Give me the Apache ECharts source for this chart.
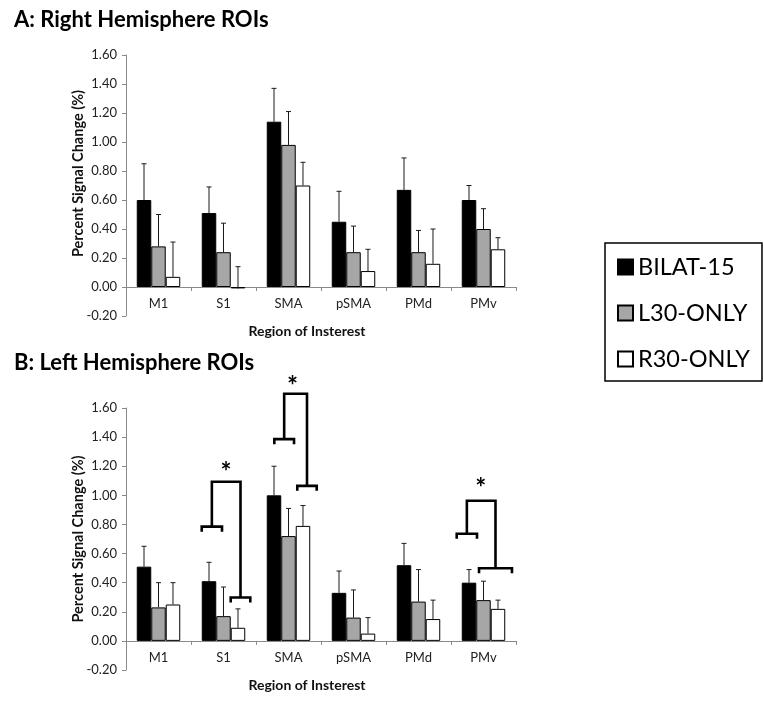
<!DOCTYPE html>
<html>
<head>
<meta charset="utf-8">
<script src="https://cdn.jsdelivr.net/npm/echarts@6/dist/echarts.min.js"></script>
<style>html,body{margin:0;padding:0;background:#fff}#c{width:764px;height:702px}</style>
</head>
<body>
<div id="c"></div>
<script>
const categories = ['M1', 'S1', 'SMA', 'pSMA', 'PMd', 'PMv'];
const seriesNames = ['BILAT-15', 'L30-ONLY', 'R30-ONLY'];
const yTicks = [-0.2, 1.6, 0.2]; // min, max, interval
const xAxisName = 'Region of Insterest';
const yAxisName = 'Percent Signal Change (%)';

// Panel A: Right hemisphere
const rightBilat = [0.60, 0.51, 1.14, 0.45, 0.67, 0.60];
const rightBilatErr = [0.85, 0.69, 1.37, 0.66, 0.89, 0.70];
const rightL30 = [0.28, 0.24, 0.98, 0.24, 0.24, 0.40];
const rightL30Err = [0.50, 0.44, 1.21, 0.42, 0.39, 0.54];
const rightR30 = [0.07, -0.01, 0.70, 0.11, 0.16, 0.26];
const rightR30Err = [0.31, 0.14, 0.86, 0.26, 0.40, 0.34];

// Panel B: Left hemisphere
const leftBilat = [0.51, 0.41, 1.00, 0.33, 0.52, 0.40];
const leftBilatErr = [0.65, 0.54, 1.20, 0.48, 0.67, 0.49];
const leftL30 = [0.23, 0.17, 0.72, 0.16, 0.27, 0.28];
const leftL30Err = [0.40, 0.37, 0.91, 0.35, 0.49, 0.41];
const leftR30 = [0.25, 0.09, 0.79, 0.05, 0.15, 0.22];
const leftR30Err = [0.40, 0.22, 0.93, 0.16, 0.28, 0.28];

// Significance brackets on panel B (category index, heights in % signal change)
const brackets = [
  {cat: 1, leftH: 0.785, topH: 1.093, rightH: 0.298, starH: 1.20},
  {cat: 2, leftH: 1.386, topH: 1.698, rightH: 1.065, starH: 1.79},
  {cat: 5, leftH: 0.736, topH: 0.963, rightH: 0.499, starH: 1.085}
];
// horizontal layout of brackets, as fractions of the category band
const bracketLayout = {
  1: {l: [-0.335, -0.023], r: [0.111, 0.412], star: 0.038},
  2: {l: [-0.218, 0.085], r: [0.135, 0.434], star: 0.062},
  5: {l: [-0.412, -0.100], r: [-0.069, 0.438], star: -0.043}
};

const FONT = 'Lato';
const colors = ['#000000', '#a6a6a6', '#ffffff'];
const BARW = 0.223;
const offsets = [-BARW, 0, BARW];

const chart = echarts.init(document.getElementById('c'), null, {renderer: 'canvas'});

function barSeries(name, data, gi, idx) {
  return {
    type: 'bar', name: name, xAxisIndex: gi, yAxisIndex: gi,
    data: data, barWidth: (BARW * 100) + '%', barGap: '0%',
    itemStyle: {color: colors[idx], borderColor: '#000', borderWidth: 1},
    silent: true, z: 2
  };
}
function errSeries(vals, errs, gi, idx) {
  return {
    type: 'custom', xAxisIndex: gi, yAxisIndex: gi, silent: true, z: 3,
    data: vals.map((v, i) => [i, v, errs[i]]),
    encode: {x: 0, y: [1, 2]},
    renderItem: function (params, api) {
      const c = api.value(0), v = api.value(1), e = api.value(2);
      const band = api.size([1, 0])[0];
      const p0 = api.coord([c, v]);
      const p1 = api.coord([c, e]);
      const x = p0[0] + offsets[idx] * band;
      const st = {stroke: '#1a1a1a', lineWidth: 1};
      return {type: 'group', children: [
        {type: 'line', shape: {x1: x, y1: p0[1], x2: x, y2: p1[1]}, style: st},
        {type: 'line', shape: {x1: x - 2.5, y1: p1[1], x2: x + 2.5, y2: p1[1]}, style: st}
      ]};
    }
  };
}
function bracketSeries() {
  return {
    type: 'custom', xAxisIndex: 1, yAxisIndex: 1, silent: true, z: 4, clip: false,
    data: brackets.map(b => [b.cat, b.leftH, b.topH, b.rightH, b.starH]),
    encode: {x: 0, y: [1, 2, 3]},
    renderItem: function (params, api) {
      const c = api.value(0);
      const lay = bracketLayout[c];
      const band = api.size([1, 0])[0];
      const cx = api.coord([c, 0])[0];
      const yL = api.coord([c, api.value(1)])[1];
      const yT = api.coord([c, api.value(2)])[1];
      const yR = api.coord([c, api.value(3)])[1];
      const yS = api.coord([c, api.value(4)])[1];
      const l0 = cx + lay.l[0] * band, l1 = cx + lay.l[1] * band;
      const r0 = cx + lay.r[0] * band, r1 = cx + lay.r[1] * band;
      const lc = (l0 + l1) / 2, rc = (r0 + r1) / 2;
      const tick = 5;
      const st = {stroke: '#000', lineWidth: 2.6, fill: null, lineJoin: 'miter'};
      return {type: 'group', children: [
        {type: 'polyline', shape: {points: [[l0, yL + tick], [l0, yL], [l1, yL], [l1, yL + tick]]}, style: st},
        {type: 'polyline', shape: {points: [[r0, yR + tick], [r0, yR], [r1, yR], [r1, yR + tick]]}, style: st},
        {type: 'polyline', shape: {points: [[lc, yL], [lc, yT], [rc, yT], [rc, yR]]}, style: st},
        {type: 'text', x: cx + lay.star * band, y: yS + 6,
          style: {text: '*', fontSize: 26, fontWeight: 'bold', fontFamily: FONT, fill: '#000', align: 'center', verticalAlign: 'middle'}}
      ]};
    }
  };
}

const axisColor = '#8a8a8a';
function xAxis(gi) {
  return {
    type: 'category', gridIndex: gi, data: categories,
    axisLine: {onZero: true, lineStyle: {color: axisColor, width: 1}},
    axisTick: {show: true, length: 4, lineStyle: {color: axisColor}},
    axisLabel: {fontFamily: FONT, fontSize: 13, color: '#222', margin: -19},
    name: xAxisName, nameLocation: 'middle', nameGap: 8,
    nameMoveOverlap: false,
    nameTextStyle: {fontFamily: FONT, fontSize: 14, fontWeight: 'bold', color: '#111', padding: [0, 28, 0, 0]}
  };
}
function yAxis(gi) {
  return {
    type: 'value', gridIndex: gi, min: yTicks[0], max: yTicks[1], interval: yTicks[2],
    axisLine: {show: true, lineStyle: {color: axisColor, width: 1}},
    axisTick: {show: true, length: 4, lineStyle: {color: axisColor}},
    splitLine: {show: false},
    axisLabel: {fontFamily: FONT, fontSize: 13, color: '#222', margin: 9,
      formatter: v => v.toFixed(2)},
    name: yAxisName, nameLocation: 'middle', nameGap: 40,
    nameMoveOverlap: false,
    nameTextStyle: {fontFamily: FONT, fontSize: 14.5, fontWeight: 'bold', color: '#111',
      padding: gi === 0 ? [0, 0, 0, 24] : [0, 0, 0, 0]}
  };
}

const option = {
  animation: false,
  backgroundColor: '#fff',
  title: [
    {text: 'A: Right Hemisphere ROIs', left: 9, top: 4,
      textStyle: {fontFamily: FONT, fontSize: 22, fontWeight: 'bold', color: '#000'}},
    {text: 'B: Left Hemisphere ROIs', left: 9, top: 347,
      textStyle: {fontFamily: FONT, fontSize: 22, fontWeight: 'bold', color: '#000'}}
  ],
  legend: {
    orient: 'vertical', left: 605, top: 243,
    data: seriesNames,
    itemWidth: 15, itemHeight: 15, itemGap: 18,
    padding: [10, 12, 8, 12],
    borderColor: '#000', borderWidth: 1.5,
    icon: 'rect',
    textStyle: {fontFamily: FONT, fontSize: 23.5, color: '#000', lineHeight: 28},
    selectedMode: false
  },
  grid: [
    {left: 126, top: 55, width: 390, height: 261},
    {left: 126, top: 408, width: 390, height: 262}
  ],
  xAxis: [xAxis(0), xAxis(1)],
  yAxis: [yAxis(0), yAxis(1)],
  series: [
    barSeries(seriesNames[0], rightBilat, 0, 0),
    barSeries(seriesNames[1], rightL30, 0, 1),
    barSeries(seriesNames[2], rightR30, 0, 2),
    barSeries(seriesNames[0], leftBilat, 1, 0),
    barSeries(seriesNames[1], leftL30, 1, 1),
    barSeries(seriesNames[2], leftR30, 1, 2),
    errSeries(rightBilat, rightBilatErr, 0, 0),
    errSeries(rightL30, rightL30Err, 0, 1),
    errSeries(rightR30, rightR30Err, 0, 2),
    errSeries(leftBilat, leftBilatErr, 1, 0),
    errSeries(leftL30, leftL30Err, 1, 1),
    errSeries(leftR30, leftR30Err, 1, 2),
    bracketSeries()
  ]
};
chart.setOption(option);
</script>
</body>
</html>
